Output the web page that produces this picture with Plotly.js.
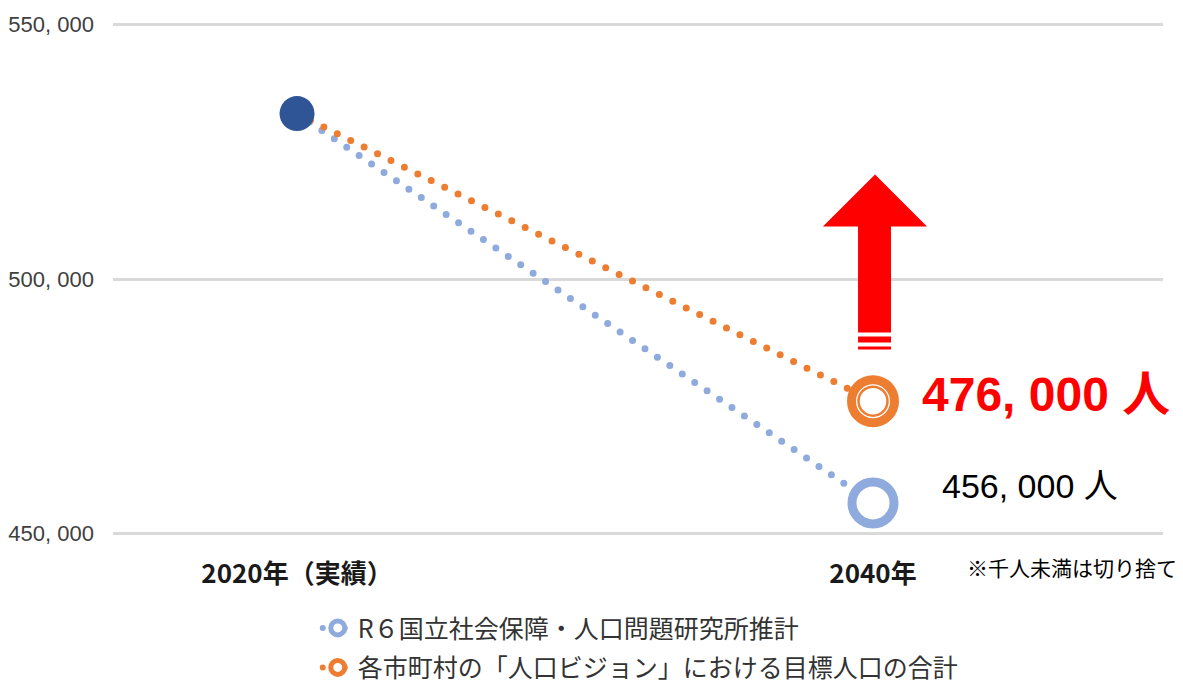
<!DOCTYPE html>
<html>
<head>
<meta charset="utf-8">
<script src="https://cdn.plot.ly/plotly-3.0.1.min.js"></script>
<style>
  html, body { margin: 0; padding: 0; background: #ffffff; }
  #chart { width: 1183px; height: 685px; }
  .scatterlayer .js-line, .legend .js-line { stroke-linecap: round; }
</style>
</head>
<body>
<div id="chart"></div>
<script>
// ---- data ----
const years = [2020, 2040];
const yearLabels = ['2020年（実績）', '2040年'];
const projection = [532500, 456000];   // R6国立社会保障・人口問題研究所推計
const target = [532500, 476000];       // 各市町村の「人口ビジョン」における目標人口の合計
const seriesNames = ['R６国立社会保障・人口問題研究所推計', '各市町村の「人口ビジョン」における目標人口の合計'];
const yTicks = [450000, 500000, 550000];
const note = '※千人未満は切り捨て';

// ---- style ----
const BLUE = '#8FAADC', ORANGE = '#ED7D31', DARK = '#2F5597', RED = '#FF0000';
const LATIN = '"Liberation Sans", Arial, "Noto Sans CJK JP", sans-serif';
const CJK = '"Noto Sans CJK JP", sans-serif';
const fmt = n => String(n).replace(/\B(?=(\d{3})+(?!\d))/g, ', ');
const DOT = '0px,15px';

const traces = [
  { x: years, y: projection, mode: 'lines', showlegend: false, hoverinfo: 'skip',
    line: { color: BLUE, width: 7, dash: DOT } },
  { x: years, y: target, mode: 'lines', showlegend: false, hoverinfo: 'skip',
    line: { color: ORANGE, width: 7, dash: DOT } },
  // 2040 projection ring
  { x: [years[1]], y: [projection[1]], mode: 'markers', showlegend: false, hoverinfo: 'skip',
    marker: { symbol: 'circle', size: 42, color: '#ffffff', line: { color: BLUE, width: 9 } } },
  // 2040 target double ring
  { x: [years[1]], y: [target[1]], mode: 'markers', showlegend: false, hoverinfo: 'skip',
    marker: { symbol: 'circle', size: 43, color: '#ffffff', line: { color: ORANGE, width: 9 } } },
  { x: [years[1]], y: [target[1]], mode: 'markers', showlegend: false, hoverinfo: 'skip',
    marker: { symbol: 'circle', size: 29, color: '#ffffff', line: { color: ORANGE, width: 2.5 } } },
  // 2020 actual
  { x: [years[0]], y: [projection[0]], mode: 'markers', showlegend: false, hoverinfo: 'skip',
    marker: { symbol: 'circle', size: 35, color: DARK, line: { width: 0 } } },
  // legend entries
  { x: [null], y: [null], mode: 'lines+markers', name: seriesNames[0], legendgroup: 'a',
    line: { color: BLUE, width: 6, dash: '0px,11px' },
    marker: { symbol: 'circle', size: 14, color: '#ffffff', line: { color: BLUE, width: 5 } } },
  { x: [null], y: [null], mode: 'lines+markers', name: seriesNames[1], legendgroup: 'b',
    line: { color: ORANGE, width: 6, dash: '0px,11px' },
    marker: { symbol: 'circle', size: 14, color: '#ffffff', line: { color: ORANGE, width: 5 } } }
];

// arrow (data coordinates around the 2040 category)
const arrowPath = [
  'M 2040.07 520530', 'L 2041.875 510314', 'L 2040.625 510314', 'L 2040.625 489489',
  'L 2039.48 489489', 'L 2039.48 510314', 'L 2038.26 510314', 'Z'
].join(' ');

const layout = {
  width: 1183, height: 685,
  margin: { l: 113, r: 20, t: 23, b: 150, autoexpand: false },
  paper_bgcolor: '#ffffff', plot_bgcolor: '#ffffff',
  font: { family: CJK, color: '#333333' },
  xaxis: {
    range: [2013.61, 2050.07], tickvals: years, ticktext: yearLabels,
    showgrid: false, zeroline: false, showline: false, ticks: '',
    ticklabelstandoff: 21,
    tickfont: { family: CJK, size: 26, weight: 'bold', color: '#1a1a1a' }
  },
  yaxis: {
    range: [449700, 550300], tickvals: yTicks, ticktext: yTicks.map(fmt),
    showgrid: true, gridcolor: '#d9d9d9', gridwidth: 3,
    zeroline: false, showline: false, ticks: '', ticklabelstandoff: 18,
    tickfont: { family: LATIN, size: 22, color: '#404040' }
  },
  legend: {
    orientation: 'v', x: 0.195, xanchor: 'left', y: -0.137, yanchor: 'top',
    font: { family: CJK, size: 25, color: '#333333' },
    tracegroupgap: 4, bgcolor: 'rgba(0,0,0,0)'
  },
  shapes: [
    { type: 'path', xref: 'x', yref: 'y', path: arrowPath, fillcolor: RED, line: { width: 0 } },
    { type: 'rect', xref: 'x', yref: 'y', x0: 2039.48, x1: 2040.625, y0: 487525, y1: 488703, fillcolor: RED, line: { width: 0 } },
    { type: 'rect', xref: 'x', yref: 'y', x0: 2039.48, x1: 2040.625, y0: 486149, y1: 486739, fillcolor: RED, line: { width: 0 } }
  ],
  annotations: [
    { x: 2041.63, y: 477400, xref: 'x', yref: 'y', xanchor: 'left', yanchor: 'middle', showarrow: false,
      text: fmt(target[1]) + ' 人', font: { family: LATIN, size: 48, weight: 'bold', color: RED } },
    { x: 2042.33, y: 459330, xref: 'x', yref: 'y', xanchor: 'left', yanchor: 'middle', showarrow: false,
      text: fmt(projection[1]) + ' 人', font: { family: LATIN, size: 34, color: '#000000' } },
    { x: 2043.2, y: -0.0625, xref: 'x', yref: 'paper', xanchor: 'left', yanchor: 'middle', showarrow: false,
      text: note, font: { family: CJK, size: 21, color: '#000000' } }
  ]
};

Plotly.newPlot('chart', traces, layout, { displayModeBar: false, staticPlot: true });
</script>
</body>
</html>
